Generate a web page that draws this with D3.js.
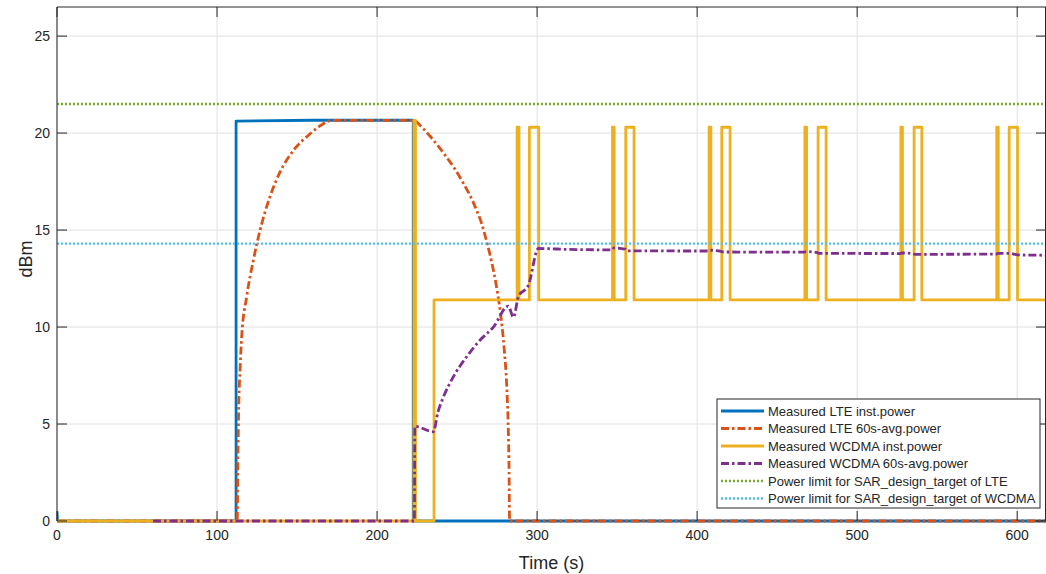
<html>
<head>
  <meta charset="UTF-8">
  <title>Power vs time</title>
  <script src="https://d3js.org/d3.v7.min.js"></script>
  <style>
    body { margin: 0; background-color: white; }
    text { font-family: "Liberation Sans", Arial, sans-serif; fill: #262626; }
  </style>
</head>
<body>
  <svg></svg>
</body>
<script>
  // ---- data (time in s, power in dBm) ----
  let xTicks = [0, 100, 200, 300, 400, 500, 600];
  let yTicks = [0, 5, 10, 15, 20, 25];

  let lteInst = [[0, 0.5], [0.3, 0], [111.9, 0], [111.9, 20.62], [160, 20.66], [222.6, 20.66], [222.6, 0], [618, 0]];

  let lteAvg = [[0, 0], [112.6, 0], [113, 3], [113.6, 6], [114.5, 8], [115.4, 9.5], [118.6, 11.6],
    [122.7, 13.45], [126.9, 15.0], [133, 16.7], [139.4, 18.0], [147.7, 19.1], [158, 19.95],
    [165, 20.4], [171.7, 20.65], [223, 20.65], [228, 20.3], [233, 19.85], [238, 19.35], [243.5, 18.75], [249, 18.1], [254, 17.4],
    [258, 16.8], [262.3, 16.0], [265.5, 15.3], [268.5, 14.4], [271.5, 13.4], [274.8, 12.0], [277, 10.8], [279.5, 8.8], [281, 7.0],
    [282, 4.7], [282.5, 2.5], [282.8, 0], [618, 0]];

  let wcdmaInst = [[0, 0], [223, 0], [223, 20.65], [224, 20.65], [224, 0], [235.6, 0], [235.6, 11.4],
    [287.5, 11.4], [287.5, 20.3], [288.7, 20.3], [288.7, 11.4], [295.2, 11.4], [295.2, 20.3], [301, 20.3], [301, 11.4],
    [347.1, 11.4], [347.1, 20.3], [348.2, 20.3], [348.2, 11.4], [355.4, 11.4], [355.4, 20.3], [360.6, 20.3], [360.6, 11.4],
    [407.5, 11.4], [407.5, 20.3], [408.6, 20.3], [408.6, 11.4], [415.4, 11.4], [415.4, 20.3], [420.6, 20.3], [420.6, 11.4],
    [467.3, 11.4], [467.3, 20.3], [468.4, 20.3], [468.4, 11.4], [475.6, 11.4], [475.6, 20.3], [480.6, 20.3], [480.6, 11.4],
    [527.3, 11.4], [527.3, 20.3], [528.3, 20.3], [528.3, 11.4], [535.6, 11.4], [535.6, 20.3], [540.4, 20.3], [540.4, 11.4],
    [587.2, 11.4], [587.2, 20.3], [588.2, 20.3], [588.2, 11.4], [595, 11.4], [595, 20.3], [600.2, 20.3], [600.2, 11.4],
    [618, 11.4]];

  let wcdmaAvg = [[60, 0], [223.3, 0], [223.6, 4.88], [235.2, 4.6], [238, 5.6], [241.5, 6.4], [247.7, 7.44],
    [256, 8.47], [264.4, 9.33], [272.7, 10.0], [282, 11.08], [285.2, 10.5], [288.3, 11.56],
    [294.6, 12.16], [300.8, 14.05], [320, 14.0], [347, 13.98], [348, 14.08], [355, 14.02], [356, 13.93],
    [407, 13.92], [408, 13.96], [415, 13.9], [416, 13.87], [467, 13.86], [468, 13.89], [475, 13.84],
    [476, 13.8], [527, 13.79], [528, 13.82], [535, 13.78], [536, 13.75], [587, 13.76], [588, 13.8],
    [595, 13.8], [600.5, 13.72], [618, 13.7]];

  let lteLimit = 21.5;
  let wcdmaLimit = 14.3;

  let legendLabels = [
    "Measured LTE inst.power",
    "Measured LTE 60s-avg.power",
    "Measured WCDMA inst.power",
    "Measured WCDMA 60s-avg.power",
    "Power limit for SAR_design_target of LTE",
    "Power limit for SAR_design_target of WCDMA"
  ];

  // ---- layout ----
  let width = 1046,
    height = 574;
  let mLeft = 57, mTop = 7, mRight = 1046, mBottom = 521;

  let svg = d3.select("svg")
    .attr("width", width)
    .attr("height", height);

  let x = d3.scaleLinear().domain([0, 618]).range([mLeft, mRight]);
  let y = d3.scaleLinear().domain([0, 26.5]).range([mBottom, mTop]);

  svg.append("defs").append("clipPath").attr("id", "clip")
    .append("rect")
    .attr("x", mLeft).attr("y", mTop - 2)
    .attr("width", mRight - mLeft).attr("height", mBottom - mTop + 4);

  // grid
  let grid = svg.append("g").attr("stroke", "#e0e0e0").attr("stroke-width", 1);
  grid.selectAll(".gx").data(xTicks).enter().append("line")
    .attr("x1", d => x(d)).attr("x2", d => x(d))
    .attr("y1", mTop).attr("y2", mBottom);
  grid.selectAll(".gy").data(yTicks).enter().append("line")
    .attr("x1", mLeft).attr("x2", mRight)
    .attr("y1", d => y(d)).attr("y2", d => y(d));

  let line = d3.line().x(d => x(d[0])).y(d => y(d[1]));
  let smooth = d3.line().x(d => x(d[0])).y(d => y(d[1])).curve(d3.curveMonotoneX);

  let series = [
    { data: lteInst, color: "#0072BD", dash: null, gen: line, w: 2.8 },
    { data: lteAvg, color: "#D95319", dash: "8,3,2.5,3", gen: smooth, w: 2.8 },
    { data: wcdmaInst, color: "#EDB120", dash: null, gen: line, w: 2.8 },
    { data: wcdmaAvg, color: "#7E2F8E", dash: "8,3,2.5,3", gen: smooth, w: 2.8 },
    { data: [[0, lteLimit], [618, lteLimit]], color: "#77AC30", dash: "2,2", gen: line, w: 2.4 },
    { data: [[0, wcdmaLimit], [618, wcdmaLimit]], color: "#4DBEEE", dash: "2,2", gen: line, w: 2.4 }
  ];

  let plot = svg.append("g").attr("clip-path", "url(#clip)");
  plot.selectAll("path")
    .data(series)
    .enter()
    .append("path")
    .attr("d", d => d.gen(d.data))
    .attr("fill", "none")
    .attr("stroke", d => d.color)
    .attr("stroke-width", d => d.w)
    .attr("stroke-linejoin", "round")
    .attr("stroke-dasharray", d => d.dash);

  // axes box and ticks
  let axis = svg.append("g").attr("stroke", "#262626").attr("stroke-width", 1);
  axis.append("line").attr("x1", mLeft).attr("x2", mLeft).attr("y1", mTop).attr("y2", mBottom);
  axis.append("line").attr("x1", mLeft).attr("x2", mRight).attr("y1", mTop).attr("y2", mTop);
  axis.append("line").attr("x1", mRight - 0.5).attr("x2", mRight - 0.5).attr("y1", mTop).attr("y2", mBottom);
  axis.selectAll(".tx").data(xTicks).enter().append("line")
    .attr("x1", d => x(d)).attr("x2", d => x(d)).attr("y1", mBottom).attr("y2", mBottom - 10);
  axis.selectAll(".tt").data(xTicks).enter().append("line")
    .attr("x1", d => x(d)).attr("x2", d => x(d)).attr("y1", mTop).attr("y2", mTop + 10);
  axis.selectAll(".ty").data(yTicks).enter().append("line")
    .attr("x1", mLeft).attr("x2", mLeft + 10).attr("y1", d => y(d)).attr("y2", d => y(d));
  axis.selectAll(".tr").data(yTicks).enter().append("line")
    .attr("x1", mRight).attr("x2", mRight - 10).attr("y1", d => y(d)).attr("y2", d => y(d));

  svg.selectAll(".xl").data(xTicks).enter().append("text")
    .attr("x", d => x(d)).attr("y", mBottom + 19)
    .attr("text-anchor", "middle").attr("font-size", 14)
    .text(d => d);
  svg.selectAll(".yl").data(yTicks).enter().append("text")
    .attr("x", mLeft - 7).attr("y", d => y(d) + 5)
    .attr("text-anchor", "end").attr("font-size", 14)
    .text(d => d);

  svg.append("text")
    .attr("x", (mLeft + mRight) / 2).attr("y", 569)
    .attr("text-anchor", "middle").attr("font-size", 18)
    .text("Time (s)");
  svg.append("text")
    .attr("transform", "translate(32,259) rotate(-90)")
    .attr("text-anchor", "middle").attr("font-size", 18)
    .text("dBm");

  // legend
  let lg = svg.append("g").attr("transform", "translate(717,399)");
  lg.append("rect")
    .attr("width", 323).attr("height", 109)
    .attr("fill", "white").attr("stroke", "#262626").attr("stroke-width", 1);
  let item = lg.selectAll(".item")
    .data(series)
    .enter()
    .append("g")
    .attr("transform", (d, i) => "translate(0," + (12 + i * 17.5) + ")");
  item.append("line")
    .attr("x1", 4).attr("x2", 47)
    .attr("stroke", d => d.color)
    .attr("stroke-width", d => d.w)
    .attr("stroke-dasharray", d => d.dash);
  item.append("text")
    .attr("x", 51).attr("y", 4.5)
    .attr("font-size", 13)
    .text((d, i) => legendLabels[i]);
</script>
</html>
